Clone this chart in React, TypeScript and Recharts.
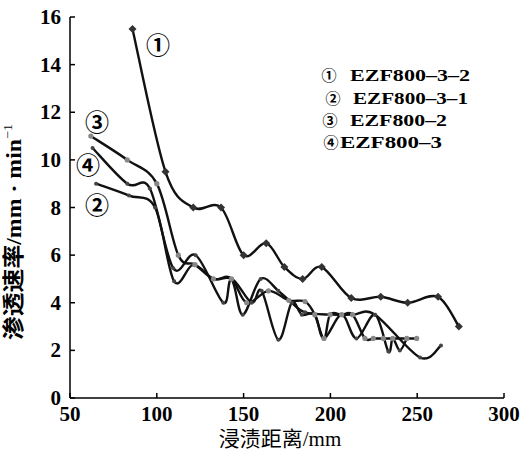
import { LineChart, Line, XAxis, YAxis } from "recharts";

// 浸渍距离 (mm) -> 渗透速率 (mm/min)
const s1Points = [
  [86, 15.5], [105, 9.5], [121, 8.0], [137, 8.0], [150, 6.0], [163, 6.5],
  [173.5, 5.5], [184, 5.0], [195, 5.5], [212, 4.2], [229, 4.25], [244.5, 4.0],
  [262, 4.25], [274, 3.0],
];
const s2Points = [
  [65, 9.0], [84, 8.5], [99, 8.0], [110, 4.9], [121, 5.6], [132.6, 5.0],
  [143, 5.0], [149.5, 3.5], [159.8, 5.0], [170, 4.5], [177.7, 4.0], [185.4, 3.6],
  [200, 3.5], [212.8, 3.5], [225.7, 3.5], [251.6, 1.7], [263.7, 2.2],
];
const s3Points = [
  [62, 11.0], [83, 10.0], [100, 9.0], [112.4, 6.0], [122, 5.6], [132.6, 5.0],
  [143, 5.0], [151.8, 4.0], [164.3, 4.5], [176, 4.1], [185.4, 4.05], [191, 3.5],
  [196.3, 2.5], [199.8, 3.5], [206.5, 3.5], [212.8, 3.5], [219.9, 2.5],
  [224.7, 2.5], [230.5, 2.5], [235.9, 2.5], [244, 2.5], [249.7, 2.5],
];
const s4Points = [
  [63, 10.5], [83, 9.0], [96, 8.8], [109.5, 5.45], [122.4, 6.0], [138.3, 4.0],
  [143.1, 5.0], [154.6, 4.0], [160.4, 4.5], [170, 2.45], [177.7, 4.0],
  [183.5, 3.5], [191, 3.5], [196.3, 2.5], [206.5, 3.5], [215, 2.5], [225.7, 3.5],
  [233.4, 1.95], [235.9, 2.5], [240, 2.0], [244, 2.5],
];

const xTicks = [50, 100, 150, 200, 250, 300];
const yTicks = [0, 2, 4, 6, 8, 10, 12, 14, 16];

const legendMarks = ["①", "②", "③", "④"];
const legendNames = ["EZF800–3–2", "EZF800–3–1", "EZF800–2", "EZF800–3"];

const toRows = (pts: number[][]) => pts.map(([x, y]) => ({ x, y }));

// plot box in page pixels
const PLOT_LEFT = 70;
const PLOT_BOTTOM = 398;

const SERIF = '"Liberation Serif", "Times New Roman", serif';
const MIXED = '"Liberation Serif", "Noto Sans CJK SC", serif';
const CIRCLED = '"Noto Sans CJK SC", "DejaVu Sans", sans-serif';

// catmull-rom style smoothing, like a spreadsheet "smoothed line"
const smoothCurve = (context: any) => {
  let pts: number[][] = [];
  return {
    areaStart() {},
    areaEnd() {},
    lineStart() {
      pts = [];
    },
    point(x: number, y: number) {
      pts.push([+x, +y]);
    },
    lineEnd() {
      const n = pts.length;
      if (!n) return;
      context.moveTo(pts[0][0], pts[0][1]);
      const t = 1 / 6;
      for (let i = 0; i < n - 1; i++) {
        const p0 = pts[i - 1] || pts[i];
        const p1 = pts[i];
        const p2 = pts[i + 1];
        const p3 = pts[i + 2] || p2;
        context.bezierCurveTo(
          p1[0] + (p2[0] - p0[0]) * t,
          p1[1] + (p2[1] - p0[1]) * t,
          p2[0] - (p3[0] - p1[0]) * t,
          p2[1] - (p3[1] - p1[1]) * t,
          p2[0],
          p2[1]
        );
      }
    },
  };
};

const DiamondDot = (props: any) => {
  const { cx, cy, index } = props;
  const r = 4;
  return (
    <path
      key={`dm-${index}`}
      d={`M${cx},${cy - r}L${cx + r},${cy}L${cx},${cy + r}L${cx - r},${cy}Z`}
      fill="#333"
    />
  );
};

const XTick = (props: any) => {
  const { x, payload } = props;
  return (
    <g>
      <line x1={x} x2={x} y1={PLOT_BOTTOM} y2={PLOT_BOTTOM - 5} stroke="#000" strokeWidth={1.5} />
      <text x={x} y={PLOT_BOTTOM + 23} textAnchor="middle" fontSize={21} fontWeight="bold" fontFamily={SERIF} fill="#000">
        {payload.value}
      </text>
    </g>
  );
};

const YTick = (props: any) => {
  const { y, payload } = props;
  return (
    <g>
      <line x1={PLOT_LEFT} x2={PLOT_LEFT + 5} y1={y} y2={y} stroke="#000" strokeWidth={1.5} />
      <text x={PLOT_LEFT - 9} y={y + 7} textAnchor="end" fontSize={21} fontWeight="bold" fontFamily={SERIF} fill="#000">
        {payload.value}
      </text>
    </g>
  );
};

const legendWidths = [120, 115, 97, 102];
const legendMarkX = [329, 333, 330, 331];
const legendTextX = [350, 353, 350, 340];
const legendBaseY = [81, 104, 126, 148];

const lineStyle = { stroke: "#111", strokeWidth: 2.4 };

export default function App() {
  return (
    <div style={{ position: "absolute", left: 0, top: 0, width: 520, height: 455, background: "#fff" }}>
      <LineChart width={520} height={455} margin={{ top: 17, right: 16, bottom: 27, left: 40 }}>
        <XAxis
          type="number"
          dataKey="x"
          domain={[50, 300]}
          ticks={xTicks}
          height={30}
          axisLine={{ stroke: "#000", strokeWidth: 1.5 }}
          tickLine={false}
          tick={<XTick />}
          interval={0}
          allowDataOverflow
        />
        <YAxis
          type="number"
          dataKey="y"
          domain={[0, 16]}
          ticks={yTicks}
          width={30}
          axisLine={{ stroke: "#000", strokeWidth: 1.5 }}
          tickLine={false}
          tick={<YTick />}
          interval={0}
        />
        <Line
          data={toRows(s2Points)}
          dataKey="y"
          type={smoothCurve as any}
          {...lineStyle}
          dot={{ r: 2, fill: "#444", stroke: "none" }}
          isAnimationActive={false}
        />
        <Line
          data={toRows(s4Points)}
          dataKey="y"
          type={smoothCurve as any}
          {...lineStyle}
          dot={{ r: 2, fill: "#444", stroke: "none" }}
          isAnimationActive={false}
        />
        <Line
          data={toRows(s3Points)}
          dataKey="y"
          type={smoothCurve as any}
          {...lineStyle}
          dot={{ r: 2.6, fill: "#888", stroke: "none" }}
          isAnimationActive={false}
        />
        <Line
          data={toRows(s1Points)}
          dataKey="y"
          type={smoothCurve as any}
          {...lineStyle}
          dot={(p: any) => <DiamondDot key={`d1-${p.index}`} {...p} />}
          isAnimationActive={false}
        />
      </LineChart>

      <svg
        width={520}
        height={455}
        style={{ position: "absolute", left: 0, top: 0, pointerEvents: "none" }}
      >
        {/* curve labels */}
        <text x={158} y={54} textAnchor="middle" fontSize={24} fontWeight="bold" fontFamily={CIRCLED} fill="#000">①</text>
        <text x={97} y={131} textAnchor="middle" fontSize={24} fontWeight="bold" fontFamily={CIRCLED} fill="#000">③</text>
        <text x={88} y={174} textAnchor="middle" fontSize={24} fontWeight="bold" fontFamily={CIRCLED} fill="#000">④</text>
        <text x={97} y={214} textAnchor="middle" fontSize={24} fontWeight="bold" fontFamily={CIRCLED} fill="#000">②</text>

        {/* legend */}
        {legendNames.map((name, i) => (
          <g key={name}>
            <text x={legendMarkX[i]} y={legendBaseY[i]} textAnchor="middle" fontSize={15} fontWeight="bold" fontFamily={CIRCLED} fill="#000">
              {legendMarks[i]}
            </text>
            <text
              x={legendTextX[i]}
              y={legendBaseY[i]}
              fontSize={16}
              fontWeight="bold"
              fontFamily={SERIF}
              fill="#000"
              textLength={legendWidths[i]}
              lengthAdjust="spacingAndGlyphs"
            >
              {name}
            </text>
          </g>
        ))}

        {/* axis titles */}
        <text x={280} y={446} textAnchor="middle" fontSize={21} fontFamily={MIXED} fill="#000">
          浸渍距离/mm
        </text>
        <text
          x={21}
          y={232}
          textAnchor="middle"
          fontSize={22}
          fontWeight="bold"
          fontFamily={MIXED}
          fill="#000"
          transform="rotate(-90 21 232)"
          textLength={216}
          lengthAdjust="spacingAndGlyphs"
        >
          渗透速率/mm · min
          <tspan fontSize={13} fontWeight="normal" dy={-9}>−1</tspan>
        </text>
      </svg>
    </div>
  );
}
